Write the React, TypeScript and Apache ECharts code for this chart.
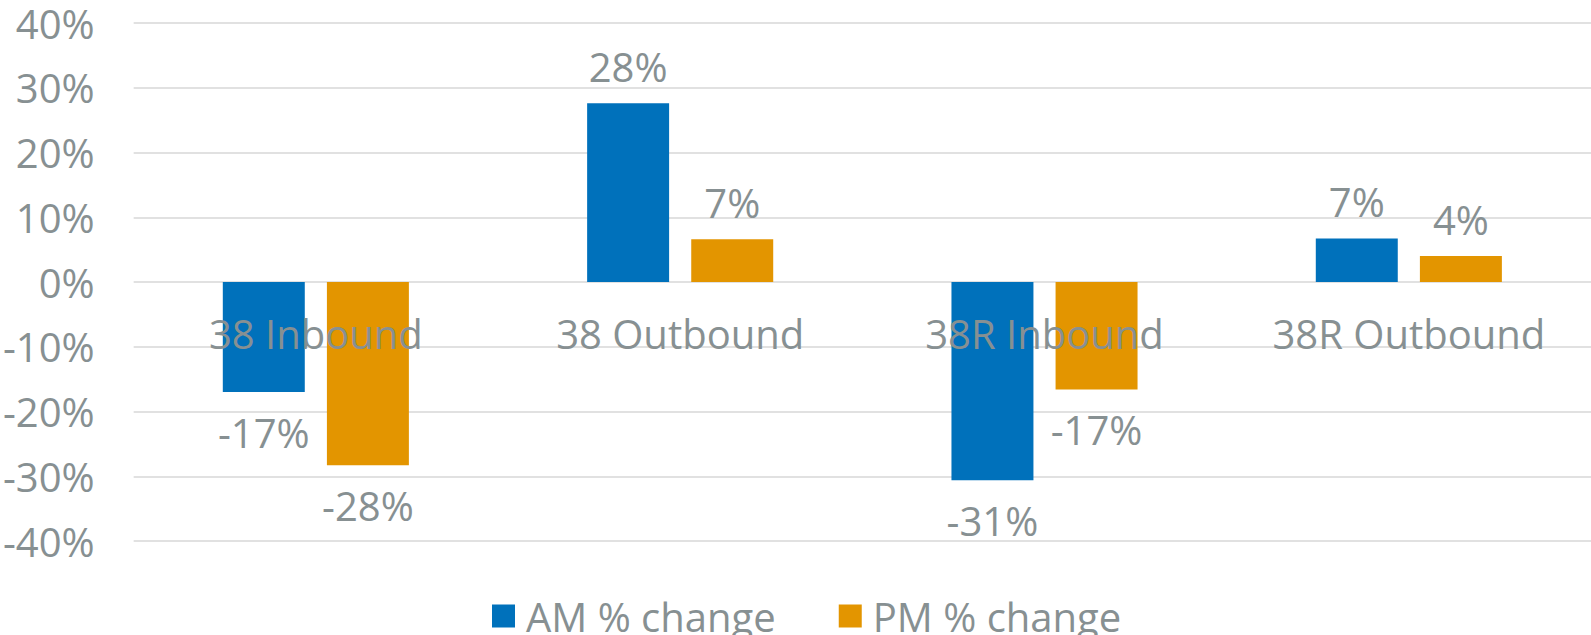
import React, { useEffect, useRef } from "react";
import * as echarts from "echarts";

const categories = ["38 Inbound", "38 Outbound", "38R Inbound", "38R Outbound"];
const amChange = [-17.0, 27.6, -30.6, 6.7];
const pmChange = [-28.3, 6.6, -16.6, 4.0];
const seriesNames = ["AM % change", "PM % change"];
const yTicks = { min: -40, max: 40, interval: 10 };

const TEXT = "#879092";
const FONT = "'Open Sans', 'Noto Sans', sans-serif";

function buildData(values: number[]) {
  return values.map((v) => ({
    value: v,
    label: {
      position: v < 0 ? "bottom" : "top",
      distance: v < 0 ? 20 : 17,
    },
  }));
}

export default function App() {
  const ref = useRef<HTMLDivElement>(null);
  useEffect(() => {
    if (!ref.current) return;
    const chart = echarts.init(ref.current, undefined, { renderer: "svg" });
    const labelStyle = {
      show: true,
      color: TEXT,
      fontSize: 40,
      fontFamily: FONT,
      formatter: (p: any) => `${Math.round(p.value)}%`,
    };
    chart.setOption({
      animation: false,
      backgroundColor: "#ffffff",
      grid: { left: 131, right: 0, top: 23, bottom: 94 },
      legend: {
        left: 487,
        top: 591,
        itemWidth: 23,
        itemHeight: 23,
        itemGap: 63,
        icon: "rect",
        textStyle: { color: TEXT, fontSize: 40, fontFamily: FONT, padding: [0, 0, 0, 6] },
        data: seriesNames,
      },
      xAxis: {
        type: "category",
        data: categories,
        offset: -259,
        z: 10,
        axisLine: { show: false, onZero: false },
        axisTick: { show: false },
        axisLabel: { color: TEXT, fontSize: 40, fontFamily: FONT, margin: 31 },
      },
      yAxis: {
        type: "value",
        min: yTicks.min,
        max: yTicks.max,
        interval: yTicks.interval,
        axisLine: { show: false },
        axisTick: { show: false },
        splitLine: { lineStyle: { color: "#E1E1E1", width: 2 } },
        axisLabel: {
          color: TEXT,
          fontSize: 40,
          fontFamily: FONT,
          margin: 39,
          formatter: (v: number) => `${v}%`,
        },
      },
      series: [
        {
          name: seriesNames[0],
          type: "bar",
          data: buildData(amChange),
          barWidth: "22.5%",
          barGap: "27%",
          itemStyle: { color: "#0071BB" },
          label: labelStyle,
        },
        {
          name: seriesNames[1],
          type: "bar",
          data: buildData(pmChange),
          barWidth: "22.5%",
          barGap: "27%",
          itemStyle: { color: "#E39500" },
          label: labelStyle,
        },
      ],
    });
    return () => chart.dispose();
  }, []);
  return (
    <div
      ref={ref}
      style={{ position: "absolute", left: 0, top: 0, width: 1591, height: 635 }}
    />
  );
}
